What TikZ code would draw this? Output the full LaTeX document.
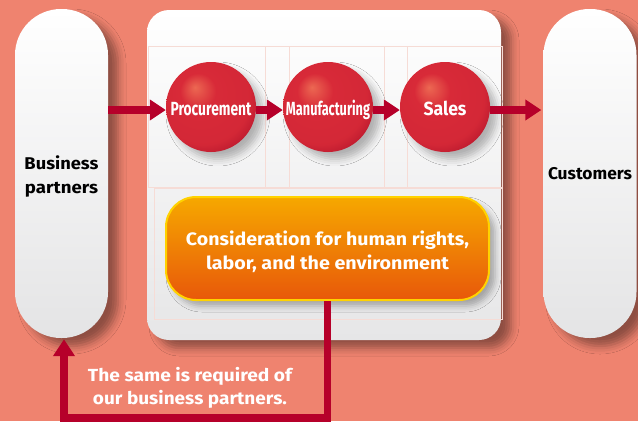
\documentclass[tikz,border=0pt]{standalone}
\usepackage{fontspec}
\usepackage{graphicx}
\setmainfont{Fira Sans}
\usetikzlibrary{arrows.meta,shadows.blur}
\definecolor{bg}{RGB}{239,131,111}
\definecolor{pillgrey}{RGB}{228,228,229}
\definecolor{panelgrey}{RGB}{230,230,231}
\definecolor{gridpink}{RGB}{246,220,214}
\definecolor{crimson}{RGB}{182,0,42}
\definecolor{orangetop}{RGB}{246,168,0}
\definecolor{orangebot}{RGB}{232,88,10}
\definecolor{goldrim}{RGB}{255,210,0}
\definecolor{ballhi}{RGB}{236,104,82}
\definecolor{ballmid}{RGB}{216,42,56}
\definecolor{balldark}{RGB}{170,16,40}
\newcommand\fitw[2]{\resizebox{#1}{\height}{#2}}
\pgfdeclareradialshading{redball}{\pgfpoint{-9bp}{11bp}}{%
  color(0bp)=(ballhi); color(10bp)=(ballmid); color(26bp)=(ballmid!90!balldark);
  color(36bp)=(balldark); color(50bp)=(balldark)}
\tikzset{
  pill/.style={rounded corners=46pt, top color=white, bottom color=pillgrey,
    minimum width=93pt, minimum height=329pt, inner sep=0pt, align=center,
    font=\fontsize{17}{24}\selectfont\bfseries, text=black,
    blur shadow={shadow xshift=10pt, shadow yshift=-8pt, shadow blur radius=8pt, shadow opacity=40}},
  panel/.style={rounded corners=22pt, top color=white, bottom color=panelgrey,
    minimum width=354pt, minimum height=330pt, inner sep=0pt,
    blur shadow={shadow xshift=10pt, shadow yshift=-8pt, shadow blur radius=8pt, shadow opacity=40}},
  ball/.style={circle, minimum size=90pt, inner sep=0pt, shading=redball,
    text=white, font=\fontsize{19}{19}\selectfont\bfseries,
    text height=17pt, text depth=0pt,
    blur shadow={shadow xshift=7pt, shadow yshift=-7pt, shadow blur radius=7pt, shadow opacity=28}},
  consbox/.style={rounded corners=30pt, top color=orangetop, bottom color=orangebot,
    draw=goldrim, line width=2pt, minimum width=323pt, minimum height=103pt,
    inner sep=0pt, align=center, text=white, font=\fontsize{18}{24}\selectfont\bfseries,
    blur shadow={shadow xshift=6pt, shadow yshift=-6pt, shadow blur radius=6pt, shadow opacity=30}},
  flow/.style={draw=crimson, line width=8pt, -{Triangle[length=16pt,width=20pt]}},
  feedback/.style={draw=crimson, line width=7.5pt, -{Triangle[length=17pt,width=21pt]}},
  gridline/.style={draw=gridpink, line width=0.8pt},
  note/.style={align=center, text=white, font=\fontsize{17.5}{23}\selectfont\bfseries}
}
\begin{document}
\begin{tikzpicture}[x=1pt,y=-1pt]
\fill[bg] (0,0) rectangle (638,421);
\useasboundingbox (0,0) rectangle (638,421);
% side pills
\node[pill] (bp) at (61.5,173.5) {\rule{0pt}{19.5pt}\fitw{74pt}{Business}\\\fitw{73pt}{partners}};
\node[pill] (cust) at (590,173.5) {\fitw{84pt}{Customers}};
% central panel
\node[panel] (panel) at (324,175) {};
% faint grid lines
\draw[gridline] (148,46) rectangle (502,187);
\draw[gridline] (265,46) -- (265,187);
\draw[gridline] (289,46) -- (289,187);
\draw[gridline] (384,46) -- (384,187);
\draw[gridline] (407,46) -- (407,187);
\draw[gridline] (154,188) rectangle (502,319);
% process balls
\node[ball] (proc) at (211,107) {\fitw{81pt}{Procurement}};
\node[ball] (manu) at (328,107) {\fitw{84pt}{Manufacturing}};
\node[ball] (sales) at (445,107) {\fitw{43pt}{Sales}};
% flow arrows
\draw[flow] (bp.east |- 0,110) -- ([yshift=-3pt]proc.west);
\draw[flow] ([yshift=-3pt]proc.east) -- ([yshift=-3pt]manu.west);
\draw[flow] ([yshift=-3pt]manu.east) -- ([yshift=-3pt]sales.west);
\draw[flow] ([yshift=-3pt]sales.east) -- ([xshift=-2pt]cust.west |- 0,110);
% consideration box
\node[consbox] (cons) at (327.5,248.5) {\rule{0pt}{22pt}\fitw{283pt}{Consideration for human rights,}\\\fitw{243pt}{labor, and the environment}};
% feedback loop
\coordinate (corner) at (cons.south |- 0,418);
\draw[feedback] (cons.south) -- (corner) -| ([xshift=2.5pt,yshift=-1pt]bp.south);
\node[note] (req) at (190,388) {\fitw{204pt}{The same is required of}\\\fitw{194pt}{our business partners.}};
\end{tikzpicture}
\end{document}
